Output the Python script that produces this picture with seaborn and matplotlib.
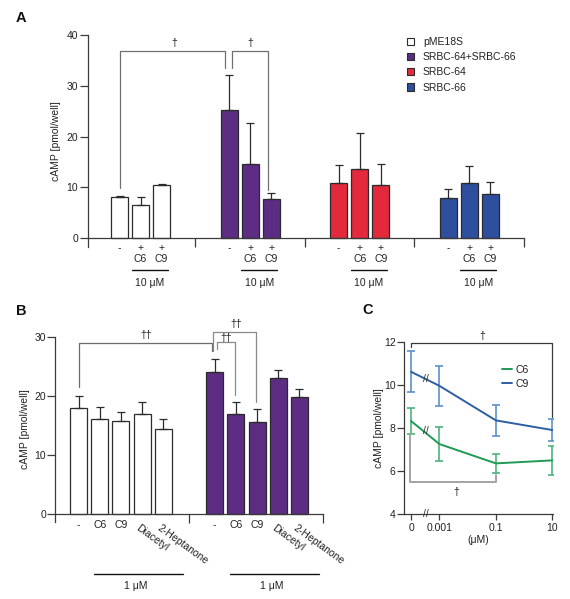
import numpy as np
import pandas as pd
import matplotlib
matplotlib.use("Agg")
import matplotlib.pyplot as plt
import matplotlib.transforms as mtransforms
from matplotlib.patches import Patch
from matplotlib.lines import Line2D
import seaborn as sns

# ---------------- data ----------------
# Panel A
a_groups = ["pME18S", "SRBC-64+SRBC-66", "SRBC-64", "SRBC-66"]
a_treatments = ["-", "C6", "C9"]
a_signs = ["-", "+", "+"]
a_pme_mean = [8.0, 6.5, 10.4]
a_pme_err = [0.3, 1.6, 0.25]
a_both_mean = [25.3, 14.6, 7.6]
a_both_err = [6.9, 8.1, 1.3]
a_srbc64_mean = [10.8, 13.6, 10.4]
a_srbc64_err = [3.6, 7.0, 4.1]
a_srbc66_mean = [7.8, 10.8, 8.7]
a_srbc66_err = [1.8, 3.4, 2.3]
a_colors = ["#FFFFFF", "#5C2D83", "#E3293B", "#2E4E9E"]
a_dose_label = "10 μM"

# Panel B
b_groups = ["pME18S", "SRBC-64+SRBC-66"]
b_compounds = ["-", "C6", "C9", "Diacetyl", "2-Heptanone"]
b_pme_mean = [17.9, 16.0, 15.7, 16.9, 14.4]
b_pme_err = [2.1, 2.05, 1.6, 2.1, 1.6]
b_both_mean = [24.0, 16.9, 15.6, 23.0, 19.8]
b_both_err = [2.2, 2.1, 2.2, 1.4, 1.3]
b_colors = ["#FFFFFF", "#5C2D83"]
b_dose_label = "1 μM"

# Panel C
c_conc = [0, 0.001, 0.1, 10]
c_conc_labels = ["0", "0.001", "0.1", "10"]
c_c6_mean = [8.31, 7.24, 6.34, 6.48]
c_c6_err = [0.59, 0.80, 0.45, 0.68]
c_c9_mean = [10.60, 9.95, 8.34, 7.89]
c_c9_err = [0.95, 0.93, 0.72, 0.52]

# ---------------- style ----------------
sns.set_style("ticks")
plt.rcParams["font.family"] = ["Liberation Sans", "DejaVu Sans"]
EDGE = "#2b2b2b"
SPINE = "#3a3a3a"
TXT = "#222222"
FS = 7.5

W, H = 570, 599
fig = plt.figure(figsize=(W / 100, H / 100), dpi=100)


def fx(px):
    return px / W


def fy(px):
    return 1 - px / H


axA = fig.add_axes([fx(88), fy(247), (524 - 88) / W, (247 - 35) / H])
axB = fig.add_axes([fx(55), fy(522.3), (323 - 55) / W, (522.3 - 336.7) / H])
axC = fig.add_axes([fx(404), fy(513.7), (553 - 404) / W, (513.7 - 341.7) / H])


def style_axis(ax):
    for s in ["top", "right"]:
        ax.spines[s].set_visible(False)
    for s in ["left", "bottom"]:
        ax.spines[s].set_color(SPINE)
        ax.spines[s].set_linewidth(0.9)
    ax.tick_params(colors=SPINE, labelcolor=TXT, labelsize=FS, width=0.9)


def bar_panel(ax, df, groups, levels, colors, width, gap):
    sns.barplot(data=df, x="group", y="cAMP", hue="level", order=groups,
                hue_order=levels, width=width, gap=gap, errorbar=None,
                legend=False, saturation=1, ax=ax)
    spacing = width / len(levels)
    centers = np.zeros((len(groups), len(levels)))
    heights = np.zeros_like(centers)
    for bar in ax.patches:
        c = bar.get_x() + bar.get_width() / 2
        gi = int(round(c))
        li = int(round((c - gi) / spacing + (len(levels) - 1) / 2))
        bar.set_facecolor(colors[gi])
        bar.set_edgecolor(EDGE)
        bar.set_linewidth(0.9)
        centers[gi, li] = c
        heights[gi, li] = bar.get_height()
    return centers, heights


# ================= Panel A =================
dfA = pd.DataFrame({
    "group": np.repeat(a_groups, len(a_treatments)),
    "level": a_treatments * len(a_groups),
    "cAMP": np.concatenate([a_pme_mean, a_both_mean, a_srbc64_mean, a_srbc66_mean]),
})
errA = np.array([a_pme_err, a_both_err, a_srbc64_err, a_srbc66_err])
cA, hA = bar_panel(axA, dfA, a_groups, a_treatments, a_colors, 0.576, 0.19)
axA.errorbar(cA.ravel(), hA.ravel(), yerr=[np.zeros(errA.size), errA.ravel()],
             fmt="none", ecolor=EDGE, elinewidth=0.9, capsize=3, capthick=0.9, zorder=3)
style_axis(axA)
axA.set_xlim(-0.48, 3.5)
axA.set_ylim(-1.77, 40)
axA.spines["bottom"].set_position(("data", 0))
axA.set_xticks([0.5, 1.5, 2.5, 3.499])
axA.set_xticklabels([])
axA.tick_params(axis="x", length=6.5)
axA.set_yticks([0, 10, 20, 30, 40])
axA.tick_params(axis="y", length=6, pad=1)
axA.set_xlabel("")
axA.set_ylabel("cAMP [pmol/well]", fontsize=FS, color=TXT, va="center")
axA.yaxis.set_label_coords(-0.0734, 0.5)

trA = mtransforms.blended_transform_factory(axA.transData, fig.transFigure)
for gi in range(len(a_groups)):
    for ti in range(len(a_treatments)):
        axA.text(cA[gi, ti], fy(248), a_signs[ti], transform=trA, ha="center",
                 va="center", fontsize=FS, color=TXT)
        if ti > 0:
            axA.text(cA[gi, ti], fy(258.5), a_treatments[ti], transform=trA,
                     ha="center", va="center", fontsize=FS, color=TXT)
    x0, x1 = cA[gi, 1] - 0.08, cA[gi, 2] + 0.055
    axA.plot([x0, x1], [fy(270), fy(270)], transform=trA, clip_on=False,
             color="#111111", lw=1.0)
    axA.text((x0 + x1) / 2, fy(283), a_dose_label, transform=trA, ha="center",
             va="center", fontsize=FS, color=TXT)

BR = "#707070"
xw, xp1, xp3 = cA[0, 0], cA[1, 0], cA[1, 2]
axA.plot([xw, xw, xp1 - 0.036, xp1 - 0.036], [9.8, 36.9, 36.9, 33.4],
         color=BR, lw=0.9, clip_on=False)
axA.plot([xp1 + 0.024, xp1 + 0.024, xp3 - 0.025, xp3 - 0.025], [33.4, 36.9, 36.9, 9.45],
         color=BR, lw=0.9, clip_on=False)
axA.text((xw + xp1) / 2, 38.4, "†", ha="center", va="center", fontsize=FS, color=TXT)
axA.text((xp1 + xp3) / 2 - 0.003, 38.4, "†", ha="center", va="center", fontsize=FS, color=TXT)

handlesA = [Patch(facecolor=c, edgecolor=EDGE, linewidth=0.8, label=g)
            for g, c in zip(a_groups, a_colors)]
fig.legend(handles=handlesA, loc="upper left", bbox_to_anchor=(fx(406.5), fy(37)),
           frameon=False, fontsize=FS, handlelength=0.72, handleheight=0.72,
           handletextpad=0.85, labelspacing=0.5, borderpad=0, borderaxespad=0,
           labelcolor=TXT)

# ================= Panel B =================
dfB = pd.DataFrame({
    "group": np.repeat(b_groups, len(b_compounds)),
    "level": b_compounds * len(b_groups),
    "cAMP": np.concatenate([b_pme_mean, b_both_mean]),
})
errB = np.array([b_pme_err, b_both_err])
cB, hB = bar_panel(axB, dfB, b_groups, b_compounds, b_colors, 0.78, 0.2)
axB.errorbar(cB.ravel(), hB.ravel(), yerr=[np.zeros(errB.size), errB.ravel()],
             fmt="none", ecolor=EDGE, elinewidth=0.9, capsize=3, capthick=0.9, zorder=3)
style_axis(axB)
axB.set_xlim(-0.485, 1.485)
axB.set_ylim(-1.4, 30)
axB.spines["bottom"].set_position(("data", 0))
axB.set_xticks([0.5, 1.484])
axB.set_xticklabels([])
axB.tick_params(axis="x", length=6.5)
axB.set_yticks([0, 10, 20, 30])
axB.tick_params(axis="y", length=5.5, pad=1)
axB.set_xlabel("")
axB.set_ylabel("cAMP [pmol/well]", fontsize=FS, color=TXT, va="center")
axB.yaxis.set_label_coords(-0.112, 0.5)

trB = mtransforms.blended_transform_factory(axB.transData, fig.transFigure)
for gi in range(len(b_groups)):
    for ci, lab in enumerate(b_compounds):
        if ci < 3:
            axB.text(cB[gi, ci], fy(525), lab, transform=trB, ha="center",
                     va="center", fontsize=FS, color=TXT)
        else:
            axB.text(cB[gi, ci] - 0.035, fy(527), lab, transform=trB, ha="left",
                     va="center", rotation=-36, rotation_mode="anchor",
                     fontsize=FS, color=TXT)
    gc = cB[gi, 2]
    x0, x1 = gc - 0.2, gc + 0.455
    axB.plot([x0, x1], [fy(574), fy(574)], transform=trB, clip_on=False,
             color="#111111", lw=1.0)
    axB.text((x0 + x1) / 2 - 0.02, fy(586), b_dose_label, transform=trB,
             ha="center", va="center", fontsize=FS, color=TXT)

xw1, xq1, xq2, xq3 = cB[0, 0], cB[1, 0], cB[1, 1], cB[1, 2]
axB.plot([xw1, xw1, xq1 - 0.022, xq1 - 0.022], [21.5, 29.0, 29.0, 27.5],
         color="#6a6a6a", lw=0.9, clip_on=False)
axB.plot([xq1 - 0.008, xq1 - 0.008, xq3 - 0.007, xq3 - 0.007], [27.5, 30.85, 30.85, 19.0],
         color="#8a8a8a", lw=0.9, clip_on=False)
axB.plot([xq1 + 0.02, xq1 + 0.02, xq2 - 0.005, xq2 - 0.005], [27.9, 29.05, 29.05, 20.1],
         color="#8a8a8a", lw=0.9, clip_on=False)
axB.text((xw1 + xq1) / 2, 30.3, "††", ha="center", va="center", fontsize=FS,
         color=TXT, clip_on=False)
axB.text((xq1 + xq3) / 2, 32.1, "††", ha="center", va="center", fontsize=FS,
         color=TXT, clip_on=False)
axB.text((xq1 + xq2) / 2 + 0.005, 29.8, "††", ha="center", va="center", fontsize=FS,
         color=TXT, clip_on=False)

# ================= Panel C =================
C6_LINE, C6_ERR = "#1F9A55", "#4DB47A"
C9_LINE, C9_ERR = "#2C5FA3", "#5A92CC"
xposC = np.log10(np.where(np.array(c_conc) > 0, np.array(c_conc, dtype=float), 1e-4))
dfC = pd.DataFrame({
    "x": np.tile(xposC, 2),
    "cAMP": c_c6_mean + c_c9_mean,
    "compound": ["C6"] * len(c_conc) + ["C9"] * len(c_conc),
})
sns.lineplot(data=dfC, x="x", y="cAMP", hue="compound",
             palette={"C6": C6_LINE, "C9": C9_LINE}, linewidth=1.4,
             errorbar=None, legend=False, sort=False, ax=axC, zorder=3)
axC.errorbar(xposC, c_c6_mean, yerr=c_c6_err, fmt="none", ecolor=C6_ERR,
             elinewidth=1.2, capsize=3, capthick=1.2, zorder=2)
axC.errorbar(xposC, c_c9_mean, yerr=c_c9_err, fmt="none", ecolor=C9_ERR,
             elinewidth=1.2, capsize=3, capthick=1.2, zorder=2)
style_axis(axC)
axC.set_xlim(-4.25, 1.02)
axC.set_ylim(4, 12)
axC.set_xticks(xposC)
axC.set_xticklabels(c_conc_labels)
axC.set_yticks([4, 6, 8, 10, 12])
axC.tick_params(axis="x", length=4.5, pad=2.5)
axC.tick_params(axis="y", length=5, pad=1)
axC.set_xlabel("(μM)", fontsize=FS, color=TXT, va="center")
axC.xaxis.set_label_coords(0.5, -0.153)
axC.set_ylabel("cAMP [pmol/well]", fontsize=FS, color=TXT, va="center")
axC.yaxis.set_label_coords(-0.168, 0.5)

xb = -3.47
for yb in [4.0, float(np.interp(xb, xposC[:2], c_c9_mean[:2])),
           float(np.interp(xb - 0.08, xposC[:2], c_c6_mean[:2]))]:
    axC.text(xb, yb, "//", ha="center", va="center",
             fontsize=7.5, color="#333333", clip_on=False, zorder=5)

axC.plot([xposC[0], xposC[0], xposC[-1], xposC[-1]], [11.77, 11.96, 11.96, 8.48],
         color="#3a3a3a", lw=0.9, clip_on=False)
axC.text(-1.5, 12.25, "†", ha="center", va="center", fontsize=FS, color=TXT,
         clip_on=False)
axC.plot([xposC[0] - 0.03, xposC[0] - 0.03, xposC[2], xposC[2]], [7.71, 5.46, 5.46, 5.8],
         color="#A3A3A3", lw=1.4, clip_on=False)
axC.text(-2.42, 5.02, "†", ha="center", va="center", fontsize=FS, color=TXT)

handlesC = [Line2D([0], [0], color=C6_LINE, lw=1.4, label="C6"),
            Line2D([0], [0], color=C9_LINE, lw=1.4, label="C9")]
fig.legend(handles=handlesC, loc="upper left", bbox_to_anchor=(fx(502), fy(365)),
           frameon=False, fontsize=FS, handlelength=1.0, handletextpad=0.25,
           labelspacing=0.35, borderpad=0, borderaxespad=0, labelcolor=TXT)

# panel letters
for lab, x, y in [("A", 21, 18), ("B", 21, 311), ("C", 368, 310)]:
    fig.text(fx(x), fy(y), lab, fontsize=10.5, fontweight="bold", ha="center",
             va="center", color="#111111")

fig.savefig("out.png", dpi=100)
